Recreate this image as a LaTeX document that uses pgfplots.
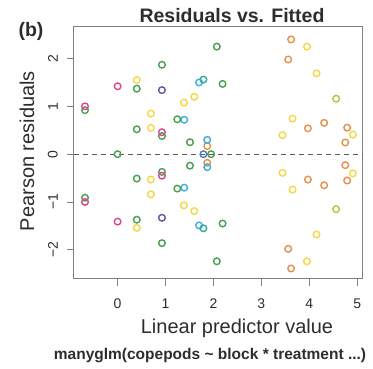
\documentclass[border=0pt]{standalone}
\usepackage{pgfplots}
\pgfplotsset{compat=1.18}
\usepackage{fontspec}
\setmainfont{Liberation Sans}
\definecolor{cpink}{RGB}{220,70,140}
\definecolor{cgreen}{RGB}{70,160,80}
\definecolor{cpurple}{RGB}{110,80,170}
\definecolor{cyellow}{RGB}{245,215,70}
\definecolor{corange}{RGB}{230,145,75}
\definecolor{ccyan}{RGB}{60,175,225}
\definecolor{cblue}{RGB}{80,120,200}
\definecolor{clime}{RGB}{175,200,60}
\definecolor{cteal}{RGB}{50,170,160}
\definecolor{txt}{RGB}{45,45,45}
\begin{document}
\begin{tikzpicture}[x=1pt,y=1pt]
\useasboundingbox (0,0) rectangle (373,369);
\begin{axis}[at={(74pt,90pt)}, anchor=south west, scale only axis,
  width=289pt, height=252pt,
  xmin=-0.91, xmax=5.12, ymin=-2.61, ymax=2.66,
  axis line style={draw=black!50, line width=1pt},
  xtick={0,1,2,3,4,5}, ytick={-2,-1,0,1,2},
  yticklabels={−2,−1,0,1,2},
  xtick pos=bottom, ytick pos=left,
  tick align=outside, major tick length=7pt,
  tick style={draw=black!50, line width=1pt},
  /pgf/number format/assume math mode=true,
  ticklabel style={font=\fontsize{14}{16}\selectfont, text=txt, inner sep=0pt},
  xticklabel style={anchor=north},
  yticklabel style={rotate=90, anchor=south},
  xticklabel shift=13pt, yticklabel shift=9pt,
  clip=false,
  mark size=3.3pt,
]
\addplot[draw=black!65, line width=1.3pt, dash pattern=on 5pt off 4pt] coordinates {(-0.91,0) (5.12,0)};
\addplot[only marks, mark=o, mark options={draw=cyellow, line width=1.4pt}] coordinates {
(0.40,1.55) (0.40,-1.54) (0.695,0.85) (0.695,-0.84) (0.695,0.55) (0.695,-0.53)
(1.384,1.08) (1.384,-1.07) (1.60,1.20) (1.60,-1.19) (3.95,2.25) (3.95,-2.24)
(4.15,1.69) (4.15,-1.68) (3.65,0.745) (3.65,-0.74) (3.44,0.40) (3.44,-0.39)
(4.91,0.41) (4.91,-0.40)};
\addplot[only marks, mark=o, mark options={draw=corange, line width=1.4pt}] coordinates {
(1.87,0.17) (1.87,-0.18) (3.62,2.40) (3.62,-2.39) (3.56,1.98) (3.56,-1.98)
(3.97,0.54) (3.97,-0.53) (4.31,0.655) (4.31,-0.65) (4.79,0.555) (4.79,-0.55)
(4.75,0.245) (4.75,-0.23)};
\addplot[only marks, mark=o, mark options={draw=clime, line width=1.4pt}] coordinates {
(4.56,1.16) (4.56,-1.15)};
\addplot[only marks, mark=o, mark options={draw=ccyan, line width=1.4pt}] coordinates {
(1.39,0.72) (1.39,-0.70) (1.70,1.50) (1.70,-1.49) (1.87,0.30) (1.87,-0.27)};
\addplot[only marks, mark=o, mark options={draw=cteal, line width=1.4pt}] coordinates {
(1.79,1.56) (1.79,-1.55)};
\addplot[only marks, mark=o, mark options={draw=cblue, line width=1.4pt}] coordinates {
(1.79,0)};
\addplot[only marks, mark=o, mark options={draw=cgreen, line width=1.4pt}] coordinates {
(-0.68,0.92) (-0.68,-0.91) (0,0) (0.40,1.37) (0.40,-1.37) (0.40,0.52) (0.40,-0.51)
(0.925,1.87) (0.925,-1.86) (0.925,0.38) (0.925,-0.37) (1.245,0.73) (1.245,-0.72)
(1.51,0.25) (1.51,-0.24) (2.07,2.25) (2.07,-2.24) (2.19,1.47) (2.19,-1.45) (1.95,0)};
\addplot[only marks, mark=o, mark options={draw=cpurple, line width=1.4pt}] coordinates {
(0.925,1.34) (0.925,-1.33)};
\addplot[only marks, mark=o, mark options={draw=cpink, line width=1.4pt}] coordinates {
(-0.68,1.00) (-0.68,-1.00) (0.0,1.42) (0.0,-1.41) (0.925,0.46) (0.925,-0.45)};
\end{axis}
\node[text=txt, font=\bfseries\fontsize{19.5}{21}\selectfont, inner sep=0pt] at (232,353) {Residuals vs. Fitted};
\node[text=txt, font=\bfseries\fontsize{19.5}{21}\selectfont, inner sep=0pt] at (31,338) {(b)};
\node[text=txt, font=\fontsize{20}{22}\selectfont, inner sep=0pt, rotate=90] at (27,218) {Pearson residuals};
\node[text=txt, font=\fontsize{20}{22}\selectfont, inner sep=0pt] at (237,41) {Linear predictor value};
\node[text=txt, font=\bfseries\fontsize{15.5}{17}\selectfont, inner sep=0pt] at (210,13) {manyglm(copepods \textasciitilde{} block * treatment ...)};
\end{tikzpicture}
\end{document}
